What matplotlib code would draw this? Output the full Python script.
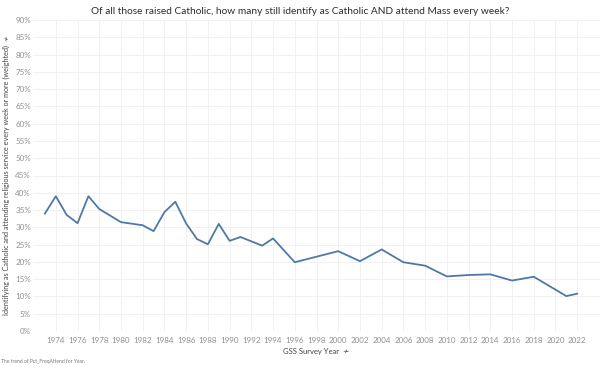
import numpy as np
import matplotlib.pyplot as plt
from matplotlib.ticker import FuncFormatter, MultipleLocator

# GSS survey years and share (%) of those raised Catholic who still
# identify as Catholic and attend weekly
years = [1973, 1974, 1975, 1976, 1977, 1978, 1980, 1982, 1983, 1984,
         1985, 1986, 1987, 1988, 1989, 1990, 1991, 1993, 1994, 1996,
         1998, 2000, 2002, 2004, 2006, 2008, 2010, 2012, 2014, 2016,
         2018, 2021, 2022]
pct = [34.0, 39.0, 33.6, 31.2, 39.0, 35.3, 31.5, 30.6, 28.9, 34.4,
       37.4, 31.1, 26.6, 25.1, 31.0, 26.1, 27.2, 24.7, 26.8, 19.9,
       21.5, 23.1, 20.2, 23.6, 19.9, 18.9, 15.8, 16.2, 16.4, 14.6,
       15.7, 10.1, 10.8]
xticks = list(range(1974, 2023, 2))

title = "Of all those raised Catholic, how many still identify as Catholic AND attend Mass every week?"
ylabel = "Identifying as Catholic and attending religious service every week or more (weighted)"
xlabel = "GSS Survey Year"
footer = "The trend of Pct_FreqAttend for Year."

fonts = ['Lato', 'DejaVu Sans']
plt.rcParams['font.family'] = fonts

fig = plt.figure(figsize=(6, 3.67), dpi=100)
ax = fig.add_axes([33 / 600, 1 - 331 / 367, 1 - 33 / 600, (331 - 20) / 367])

ax.plot(years, pct, color='#4e79a7', lw=1.3, solid_joinstyle='round')

ax.set_xlim(1971.9, 2024.1)
ax.set_ylim(0, 90)
ax.yaxis.set_major_locator(MultipleLocator(5))
ax.yaxis.set_major_formatter(FuncFormatter(lambda v, p: '%d%%' % v))
ax.set_xticks(xticks)

for s in ax.spines.values():
    s.set_visible(False)
ax.grid(True, color='#efefef', lw=0.6)
ax.set_axisbelow(True)
ax.tick_params(length=0, labelsize=5.8, labelcolor='#909090')
ax.tick_params(axis='y', pad=1.5)
ax.tick_params(axis='x', pad=4)

ax.set_ylabel(ylabel + '  \u2241', fontsize=5.2, color='#444444', labelpad=4)
ax.set_xlabel(xlabel + '  \u2241', fontsize=5.5, color='#444444', labelpad=3)

fig.text(0.5, 1 - 11 / 367, title, ha='center', va='center',
         fontsize=7.3, color='#2b2b2b')
fig.text(0.002, 1 - 362 / 367, footer, ha='left', va='center',
         fontsize=3.6, color='#777777')

fig.savefig('out.png', dpi=100)
